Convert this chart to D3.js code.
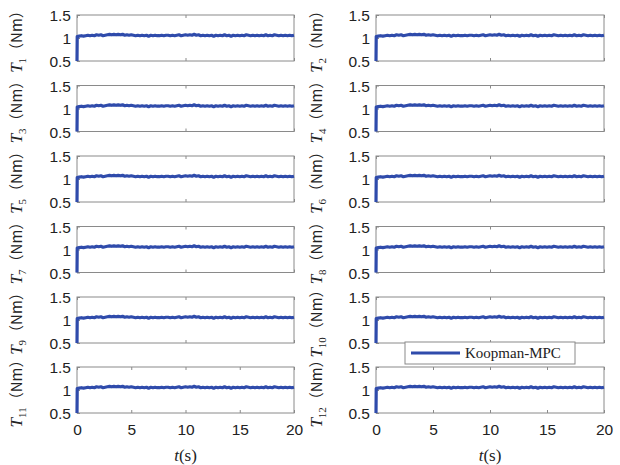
<!DOCTYPE html>
<html><head><meta charset="utf-8">
<script src="https://cdn.jsdelivr.net/npm/d3@7"></script>
<style>body{margin:0;background:#fff}</style>
</head><body>
<svg id="c" width="620" height="465"></svg>
<script>
// ---- data ----
const jointLabels = ["1","2","3","4","5","6","7","8","9","10","11","12"];
const yTicks = [0.5, 1, 1.5];
const xTicksFull = [0, 5, 10, 15, 20];
const xTicksTop = [0, 10, 20];
const seriesName = "Koopman-MPC";
const timeS = [0,0.02,0.2,0.4,0.6,0.8,1.0,1.2,1.4,1.6,1.8,2.0,2.2,2.4,2.6,2.8,3.0,3.2,3.4,3.6,3.8,4.0,4.2,4.4,4.6,4.8,
  5.0,5.2,5.4,5.6,5.8,6.0,6.2,6.4,6.6,6.8,7.0,7.2,7.4,7.6,7.8,8.0,8.2,8.4,8.6,8.8,9.0,9.2,9.4,9.6,9.8,
  10.0,10.2,10.4,10.6,10.8,11.0,11.2,11.4,11.6,11.8,12.0,12.2,12.4,12.6,12.8,13.0,13.2,13.4,13.6,13.8,14.0,14.2,14.4,14.6,14.8,
  15.0,15.2,15.4,15.6,15.8,16.0,16.2,16.4,16.6,16.8,17.0,17.2,17.4,17.6,17.8,18.0,18.2,18.4,18.6,18.8,19.0,19.2,19.4,19.6,19.8,20.0];
const torqueNm = [0.5,1.03,1.04,1.05,1.04,1.05,1.06,1.05,1.06,1.05,1.07,1.06,1.07,1.05,1.06,1.07,1.08,1.07,1.08,1.07,1.08,1.07,1.08,1.06,1.07,1.06,
  1.07,1.06,1.05,1.06,1.05,1.06,1.05,1.06,1.04,1.06,1.05,1.06,1.05,1.05,1.06,1.05,1.06,1.06,1.05,1.06,1.05,1.06,1.07,1.05,1.06,
  1.07,1.06,1.07,1.06,1.08,1.06,1.07,1.05,1.06,1.05,1.06,1.05,1.06,1.04,1.06,1.05,1.06,1.05,1.07,1.05,1.06,1.04,1.06,1.05,1.06,
  1.05,1.06,1.05,1.07,1.06,1.05,1.06,1.05,1.06,1.05,1.06,1.05,1.07,1.05,1.06,1.05,1.07,1.06,1.05,1.06,1.05,1.06,1.05,1.06,1.05,1.06];

// ---- layout ----
const svg = d3.select("#c");
const cols = [{x0:77, x1:294, lx:22}, {x0:376, x1:604, lx:322}];
const rowTops = [15, 85.5, 156, 226.5, 297, 367];
const ph = 46;
const lineColor = "#2f4bab";
const axisColor = "#8a8a8a";

jointLabels.forEach((lab, i) => {
  const c = cols[i % 2], r = Math.floor(i / 2);
  const top = rowTops[r], bottom = top + ph;
  const x = d3.scaleLinear().domain([0, 20]).range([c.x0, c.x1]);
  const y = d3.scaleLinear().domain([0.5, 1.5]).range([bottom, top]);
  const g = svg.append("g");
  const isBottom = r === 5;
  const xt = isBottom ? xTicksFull : xTicksTop;

  g.append("rect").attr("x", c.x0).attr("y", top).attr("width", c.x1 - c.x0).attr("height", ph)
    .attr("fill", "none").attr("stroke", axisColor).attr("stroke-width", 1);

  const ax = d3.axisBottom(x).tickValues(xt).tickSize(-3).tickFormat(isBottom ? d3.format("d") : "");
  const gx = g.append("g").attr("transform", `translate(0,${bottom})`).call(ax);
  const axT = d3.axisTop(x).tickValues(xt).tickSize(-3).tickFormat("");
  const gxt = g.append("g").attr("transform", `translate(0,${top})`).call(axT);
  const ay = d3.axisLeft(y).tickValues(yTicks).tickSize(-3).tickFormat(d3.format("~g"));
  const gy = g.append("g").attr("transform", `translate(${c.x0},0)`).call(ay);
  [gx, gxt, gy].forEach(a => {
    a.select(".domain").remove();
    a.selectAll(".tick line").attr("stroke", axisColor);
    a.selectAll(".tick text").attr("fill", "#222").attr("font-family", "Liberation Sans, Arial, sans-serif").attr("font-size", 15.5);
  });
  gy.selectAll(".tick text").attr("x", -6).attr("dy", "0.36em");
  gx.selectAll(".tick text").attr("y", 11).attr("dy", "0.71em");

  const line = d3.line().x((d, k) => x(timeS[k])).y(d => y(d));
  g.append("path").datum(torqueNm).attr("d", line).attr("fill", "none")
    .attr("stroke", lineColor).attr("stroke-width", 3.2).attr("stroke-linejoin", "round");

  const cy = (top + bottom) / 2;
  const t = g.append("text").attr("transform", `translate(${c.lx},${cy}) rotate(-90)`)
    .attr("text-anchor", "middle").attr("font-family", "Liberation Serif, Times New Roman, serif")
    .attr("font-size", 17).attr("fill", "#222");
  t.append("tspan").attr("font-style", "italic").text("T");
  t.append("tspan").attr("font-size", 11).attr("dy", 4).text(lab);
  t.append("tspan").attr("dy", -4).attr("font-family", "Noto Sans CJK SC").attr("font-size", 15).text("（Nm）");

  if (isBottom) {
    const xl = svg.append("text").attr("x", (c.x0 + c.x1) / 2).attr("y", 461).attr("text-anchor", "middle")
      .attr("font-family", "Liberation Serif, Times New Roman, serif").attr("font-size", 17).attr("fill", "#222");
    xl.append("tspan").attr("font-style", "italic").text("t");
    xl.append("tspan").text("(s)");
  }
});

const lg = svg.append("g");
lg.append("rect").attr("x", 405).attr("y", 342).attr("width", 170).attr("height", 22)
  .attr("fill", "#fff").attr("stroke", axisColor);
lg.append("line").attr("x1", 411).attr("x2", 460).attr("y1", 353).attr("y2", 353)
  .attr("stroke", lineColor).attr("stroke-width", 3.2);
lg.append("text").attr("x", 465).attr("y", 358).attr("font-family", "Liberation Serif, Times New Roman, serif")
  .attr("font-size", 15).attr("fill", "#222").text(seriesName);
</script>
</body></html>
